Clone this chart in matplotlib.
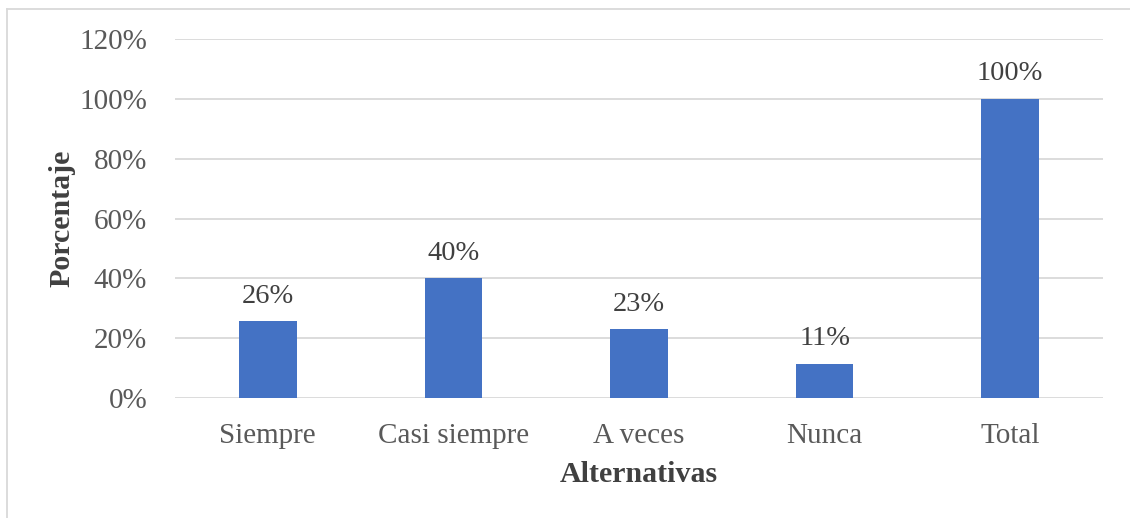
import matplotlib.pyplot as plt
from matplotlib.lines import Line2D

categories = ['Siempre', 'Casi siempre', 'A veces', 'Nunca', 'Total']
values = [0.257, 0.40, 0.229, 0.114, 1.00]
yticks = [0, 0.2, 0.4, 0.6, 0.8, 1.0, 1.2]

plt.rcParams['font.family'] = ['Liberation Serif', 'DejaVu Serif']

fig = plt.figure(figsize=(11.3, 5.18), dpi=100)
ax = fig.add_axes([175 / 1130, 1 - 398 / 518, 928 / 1130, 359 / 518])

x = range(len(categories))
bars = ax.bar(x, values, width=0.31, color='#4472C4', zorder=3)

for b, v in zip(bars, values):
    ax.annotate(f'{v * 100:.0f}%', (b.get_x() + b.get_width() / 2, v),
                xytext=(0, 9), textcoords='offset points',
                ha='center', va='bottom', fontsize=20.5, color='#404040')

ax.set_xlim(-0.5, len(categories) - 0.5)
ax.set_ylim(0, 1.2)
ax.set_yticks(yticks)
ax.set_yticklabels([f'{t * 100:.0f}%' for t in yticks])
ax.set_xticks(list(x))
ax.set_xticklabels(categories)
ax.tick_params(axis='both', length=0, labelsize=21, labelcolor='#595959')
ax.tick_params(axis='y', pad=20)
ax.tick_params(axis='x', pad=18)

ax.grid(axis='y', color='#d9d9d9', linewidth=1.3, zorder=0)
ax.set_axisbelow(True)
for s in ax.spines.values():
    s.set_visible(False)

ax.set_xlabel('Alternativas', fontsize=21.5, fontweight='bold', color='#404040', va='center')
ax.xaxis.set_label_coords(0.5, -(475 - 398) / 359)
ax.set_ylabel('Porcentaje', fontsize=21.5, fontweight='bold', color='#404040', va='center')
ax.yaxis.set_label_coords(-(175 - 62) / 928, 0.5)

# outer chart border (only left and top visible in crop)
fig.add_artist(Line2D([7 / 1130, 7 / 1130], [0, 1 - 9 / 518], color='#d9d9d9', linewidth=1.3))
fig.add_artist(Line2D([7 / 1130, 1], [1 - 9 / 518, 1 - 9 / 518], color='#d9d9d9', linewidth=1.3))

fig.savefig('out.png', dpi=100, facecolor='white')
